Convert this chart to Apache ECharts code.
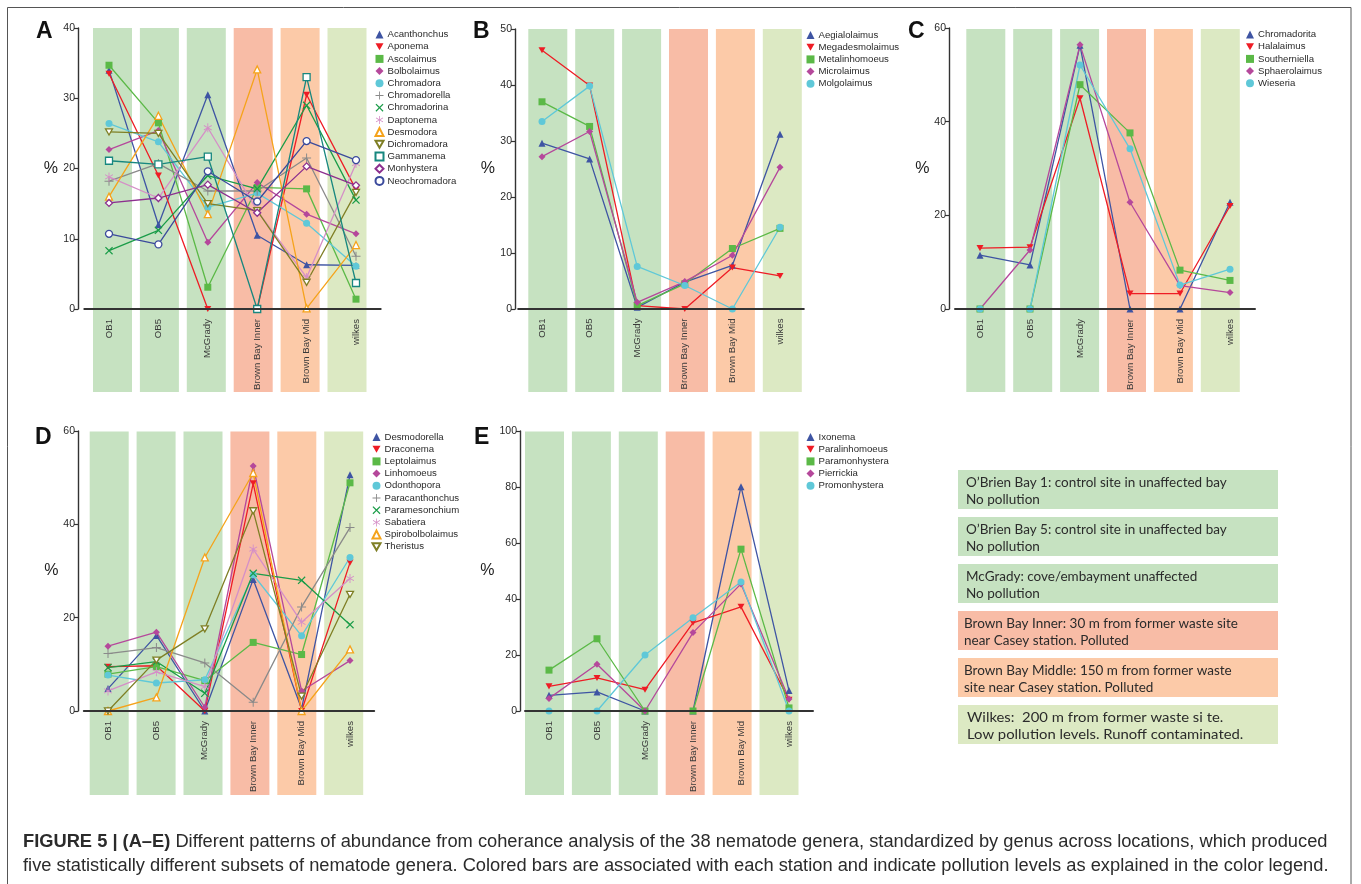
<!DOCTYPE html>
<html>
<head>
<meta charset="utf-8">
<script src="https://cdn.jsdelivr.net/npm/echarts@6/dist/echarts.min.js"></script>
<style>
  html, body { margin: 0; padding: 0; background: #fff; }
  #chart { width: 1361px; height: 884px; }
</style>
</head>
<body>
<div id="chart"></div>
<script>
// Sampling stations (x categories shared by all five panels)
const stations = ['OB1', 'OB5', 'McGrady', 'Brown Bay Inner', 'Brown Bay Mid', 'wilkes'];
// Pollution class colour of each station's background band
const stationColors = ['#c6e2c1', '#c6e2c1', '#c6e2c1', '#f8bca6', '#fccaa8', '#dce9c3'];

// Panel A
const generaA = ['Acanthonchus', 'Aponema', 'Ascolaimus', 'Bolbolaimus', 'Chromadora', 'Chromadorella',
  'Chromadorina', 'Daptonema', 'Desmodora', 'Dichromadora', 'Gammanema', 'Monhystera', 'Neochromadora'];
const valuesA = [
  [34.0, 12.0, 30.5, 10.5, 6.3, 6.2],
  [33.5, 19.0, 0, 0, 30.5, 17.0],
  [34.7, 26.5, 3.1, 17.3, 17.1, 1.4],
  [22.7, 25.4, 9.5, 18.0, 13.5, 10.7],
  [26.4, 23.8, 14.5, 16.5, 12.2, 6.1],
  [18.2, 20.7, 16.8, 16.8, 21.5, 7.5],
  [8.3, 11.2, 19.0, 17.1, 29.0, 15.5],
  [18.8, 15.8, 25.8, 14.0, 4.5, 20.7],
  [16.0, 27.5, 13.5, 34.1, 0.1, 9.1],
  [25.2, 25.0, 15.0, 14.0, 3.8, 16.6],
  [21.1, 20.6, 21.7, 0, 33.0, 3.7],
  [15.1, 15.8, 17.7, 13.7, 20.3, 17.6],
  [10.7, 9.2, 19.6, 15.3, 23.9, 21.2]
];

// Panel B
const generaB = ['Aegialolaimus', 'Megadesmolaimus', 'Metalinhomoeus', 'Microlaimus', 'Molgolaimus'];
const valuesB = [
  [29.6, 26.8, 0.3, 4.8, 7.8, 31.2],
  [46.2, 39.9, 0.6, 0, 7.4, 5.9],
  [37.0, 32.6, 0.6, 4.5, 10.8, 14.4],
  [27.2, 31.7, 1.2, 4.9, 9.6, 25.3],
  [33.5, 39.8, 7.6, 4.2, 0, 14.6]
];

// Panel C
const generaC = ['Chromadorita', 'Halalaimus', 'Southerniella', 'Sphaerolaimus', 'Wieseria'];
const valuesC = [
  [11.5, 9.4, 56.3, 0, 0, 22.8],
  [13.0, 13.2, 45.0, 3.3, 3.3, 22.0],
  [0, 0, 47.9, 37.6, 8.3, 6.1],
  [0, 12.6, 56.4, 22.8, 5.0, 3.5],
  [0, 0, 52.1, 34.2, 5.1, 8.5]
];

// Panel D
const generaD = ['Desmodorella', 'Draconema', 'Leptolaimus', 'Linhomoeus', 'Odonthopora', 'Paracanthonchus',
  'Paramesonchium', 'Sabatiera', 'Spirobolbolaimus', 'Theristus'];
const valuesD = [
  [4.8, 16.2, 0, 28.2, 0.5, 50.6],
  [9.5, 9.7, 0, 48.8, 0, 31.8],
  [7.9, 9.5, 6.5, 14.7, 12.1, 48.9],
  [13.9, 16.9, 0.8, 52.5, 4.3, 10.8],
  [7.7, 6.0, 6.7, 29.2, 16.1, 32.9],
  [12.3, 13.6, 10.3, 1.9, 22.3, 39.3],
  [9.3, 10.6, 3.8, 29.5, 28.0, 18.5],
  [4.3, 8.4, 5.2, 34.7, 19.0, 28.4],
  [0, 2.9, 32.9, 51.0, 0, 13.2],
  [0, 10.9, 17.6, 42.9, 3.2, 25.0]
];

// Panel E
const generaE = ['Ixonema', 'Paralinhomoeus', 'Paramonhystera', 'Pierrickia', 'Promonhystera'];
const valuesE = [
  [5.6, 6.8, 0, 0, 80.1, 7.3],
  [8.8, 11.8, 7.6, 31.5, 37.2, 4.0],
  [14.6, 25.8, 0, 0, 57.8, 1.1],
  [4.5, 16.7, 0, 28.0, 45.4, 4.3],
  [0, 0, 20.0, 33.3, 46.1, 0]
];

// Y-axis ranges per panel
const yMax = [40, 50, 60, 60, 100];
const yStep = [10, 10, 20, 20, 20];

// Station key text
const keyLines = [
  ['O\u2019Brien Bay 1: control site in unaffected bay', 'No pollution'],
  ['O\u2019Brien Bay 5: control site in unaffected bay', 'No pollution'],
  ['McGrady: cove/embayment unaffected', 'No pollution'],
  ['Brown Bay Inner: 30 m from former waste site', 'near Casey station. Polluted'],
  ['Brown Bay Middle: 150 m from former waste', 'site near Casey station. Polluted'],
  ['Wilkes:  200 m from former waste si te.', 'Low pollution levels. Runoff contaminated.']
];
const keyColors = ['#c6e2c1', '#c6e2c1', '#c6e2c1', '#f8bca6', '#fccaa8', '#dce9c3'];

// ---- marker shapes ----
function armsPath(n, start, w) {
  // union of n thin bars through the centre, as one polygon
  const R = 5, phi = Math.PI * 2 / n, pts = [];
  for (let k = 0; k < n; k++) {
    const a = start + k * phi;
    const ux = Math.cos(a), uy = Math.sin(a), nx = -uy, ny = ux;
    pts.push([R * ux - w * nx, R * uy - w * ny]);
    pts.push([R * ux + w * nx, R * uy + w * ny]);
    const b = a + phi / 2, r = w / Math.sin(phi / 2);
    pts.push([r * Math.cos(b), r * Math.sin(b)]);
  }
  return 'path://M' + pts.map(p => p[0].toFixed(3) + ',' + p[1].toFixed(3)).join('L') + 'Z';
}
const DOWN = 'path://M0,0L10,0L5,8.66Z';
const PLUS = armsPath(4, 0, 0.55);
const CROSS = armsPath(4, Math.PI / 4, 0.6);
const STAR = armsPath(6, Math.PI / 2, 0.5);

const markerStyles = [
  { color: '#3e54a3', symbol: 'triangle' },
  { color: '#ee1c25', symbol: DOWN },
  { color: '#5bb947', symbol: 'rect' },
  { color: '#b5489b', symbol: 'diamond' },
  { color: '#5fc8d8', symbol: 'circle' },
  { color: '#8a8a8a', symbol: PLUS, size: 9 },
  { color: '#1a9c48', symbol: CROSS, size: 8 },
  { color: '#d58fc7', symbol: STAR, size: 9 },
  { color: '#f5a31b', symbol: 'triangle', open: true },
  { color: '#7f7f25', symbol: DOWN, open: true },
  { color: '#17877f', symbol: 'rect', open: true },
  { color: '#8c2f8f', symbol: 'diamond', open: true },
  { color: '#3b4a9c', symbol: 'circle', open: true }
];

// ---- panel layout ----
const FONT = 'Liberation Sans, Arial, sans-serif';
const panels = [
  { letter: 'A', genera: generaA, values: valuesA,
    grid: { left: 84.3, top: 28, width: 296.4, height: 281 }, yOff: 6.3, xOff: 6, nameGap: 20,
    band: { left: 89.05, top: 28, width: 281.4, height: 364 },
    legend: { left: 374.5, top: 28.5 }, lx: 36, ly: 20 },
  { letter: 'B', genera: generaB, values: valuesB,
    grid: { left: 518.2, top: 29, width: 285.6, height: 280 }, yOff: 3.2, xOff: 5.5, nameGap: 20,
    band: { left: 524.35, top: 29, width: 281.4, height: 363 },
    legend: { left: 806.5, top: 29 }, lx: 473, ly: 20 },
  { letter: 'C', genera: generaC, values: valuesC,
    grid: { left: 955, top: 28, width: 300, height: 281 }, yOff: 6, xOff: 6, nameGap: 15.5,
    band: { left: 962.35, top: 29, width: 281.4, height: 363 },
    legend: { left: 1246, top: 28.5 }, lx: 908, ly: 20 },
  { letter: 'D', genera: generaD, values: valuesD,
    grid: { left: 83.8, top: 431, width: 290.4, height: 280 }, yOff: 5.8, xOff: 6, nameGap: 13.5,
    band: { left: 85.75, top: 431.5, width: 281.4, height: 363.5 },
    legend: { left: 371.5, top: 431 }, lx: 35, ly: 426 },
  { letter: 'E', genera: generaE, values: valuesE,
    grid: { left: 525, top: 431, width: 288, height: 280 }, yOff: 5, xOff: 6, nameGap: 19.5,
    band: { left: 521.05, top: 431.5, width: 281.4, height: 363.5 },
    legend: { left: 806.5, top: 431 }, lx: 474, ly: 426 }
];

const grid = [], xAxis = [], yAxis = [], series = [], legend = [], graphic = [];

panels.forEach((p, i) => {
  const gBand = grid.length;
  grid.push(Object.assign({ containLabel: false }, p.band));
  xAxis.push({ type: 'category', gridIndex: gBand, data: stations, show: false });
  yAxis.push({ type: 'value', gridIndex: gBand, min: 0, max: 1, show: false });
  series.push({
    type: 'bar', xAxisIndex: gBand, yAxisIndex: gBand, barWidth: 39, z: 0, silent: true,
    data: stations.map((s, k) => ({ value: 1, itemStyle: { color: stationColors[k] } }))
  });

  const gData = grid.length;
  grid.push(Object.assign({ containLabel: false }, p.grid));
  xAxis.push({
    type: 'category', gridIndex: gData, data: stations, offset: p.xOff, z: 5,
    axisLine: { lineStyle: { color: '#333', width: 2 } },
    axisTick: { alignWithLabel: true, length: 4, lineStyle: { color: '#333', width: 1 } },
    axisLabel: { rotate: 90, margin: 4, fontSize: 9.6, color: '#3a3a3a', fontFamily: FONT },
    splitLine: { show: false }
  });
  yAxis.push({
    type: 'value', gridIndex: gData, min: 0, max: yMax[i], interval: yStep[i], offset: p.yOff, z: 5,
    name: '%', nameLocation: 'middle', nameRotate: 0, nameGap: p.nameGap,
    nameTextStyle: { fontSize: 16, color: '#222', fontFamily: FONT, align: 'right' },
    axisLine: { show: true, lineStyle: { color: '#333', width: 1.4 } },
    axisTick: { show: true, length: 4, lineStyle: { color: '#333', width: 1.2 } },
    axisLabel: { margin: 3, fontSize: 10.5, color: '#2a2a2a', fontFamily: FONT },
    splitLine: { show: false }
  });

  const legendData = [];
  p.genera.forEach((name, k) => {
    const st = markerStyles[k];
    legendData.push({ name: name, icon: st.symbol });
    series.push({
      type: 'line', name: name, xAxisIndex: gData, yAxisIndex: gData, z: 3,
      data: p.values[k], symbol: st.symbol, symbolSize: st.size || 7, symbolKeepAspect: true,
      clip: false, silent: true,
      lineStyle: { color: st.color, width: 1.3 },
      itemStyle: st.open ? { color: '#fff', borderColor: st.color, borderWidth: 1.3 }
                         : { color: st.color, borderWidth: 0 },
      emphasis: { disabled: true }
    });
  });
  legend.push({
    orient: 'vertical', left: p.legend.left, top: p.legend.top, data: legendData,
    itemWidth: 8, itemHeight: 8, itemGap: 0.2, selectedMode: false, padding: 0,
    textStyle: { fontSize: 9.6, color: '#2a2a2a', fontFamily: FONT, lineHeight: 12, padding: [0, 0, 0, -1] }
  });

  graphic.push({
    type: 'text', left: p.lx, top: p.ly,
    style: { text: p.letter, fontSize: 23, fontWeight: 'bold', fill: '#111', fontFamily: FONT }
  });
});

// station key boxes
const keyTop = [470, 517, 564, 611, 658, 705];
keyLines.forEach((lines, i) => {
  graphic.push({
    type: 'rect', shape: { x: 958, y: keyTop[i], width: 320, height: 39 },
    style: { fill: keyColors[i] }, z: 1
  });
  graphic.push({
    type: 'text', x: i === 5 ? 967 : (i >= 3 ? 964 : 966), y: keyTop[i] + 4, z: 2,
    scaleX: i === 5 ? 1.1 : 1,
    style: { text: lines.join('\n'), fontSize: 13.5, lineHeight: 17, fill: '#2b2b2b',
      fontFamily: 'Lato, Open Sans, sans-serif' }
  });
});

// caption
graphic.push({
  type: 'text', x: 23, y: 830,
  style: {
    text: '{b|FIGURE 5 | (A\u2013E)} Different patterns of abundance from coherance analysis of the 38 nematode genera, standardized by genus across locations, which produced\n' +
          'five statistically different subsets of nematode genera. Colored bars are associated with each station and indicate pollution levels as explained in the color legend.',
    fontSize: 18.3, lineHeight: 24, fill: '#2b2b2b', fontFamily: FONT,
    rich: { b: { fontWeight: 'bold', fontSize: 18.3, fill: '#2b2b2b', fontFamily: FONT } }
  }
});

// outer frame
graphic.push({
  type: 'rect', shape: { x: 7.5, y: 7.5, width: 1343.5, height: 900 },
  style: { fill: 'none', stroke: '#555', lineWidth: 1 }, z: 10, silent: true
});

const chart = echarts.init(document.getElementById('chart'), null, { renderer: 'canvas' });
chart.setOption({
  animation: false,
  backgroundColor: '#fff',
  grid, xAxis, yAxis, series, legend, graphic
});
</script>
</body>
</html>
